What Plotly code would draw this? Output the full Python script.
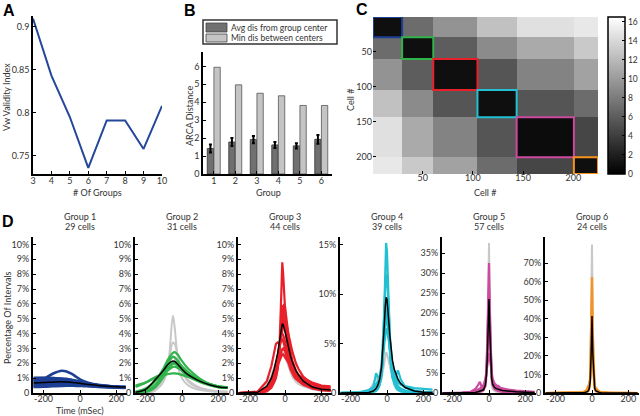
import numpy as np
import plotly.graph_objects as go

# ---------------- Panel A data ----------------
groups_k = [3, 4, 5, 6, 7, 8, 9, 10]
vw_index = [0.909, 0.843, 0.795, 0.736, 0.791, 0.791, 0.758, 0.808]

# ---------------- Panel B data ----------------
bar_groups = [1, 2, 3, 4, 5, 6]
avg_dis = [1.42, 1.78, 1.92, 1.62, 1.57, 1.93]
avg_dis_err = [0.22, 0.22, 0.20, 0.17, 0.15, 0.25]
min_dis = [5.95, 4.97, 4.50, 4.36, 3.82, 3.82]
legend_names = ["Avg dis from group center", "Min dis between centers"]
bar_colors = ["#707070", "#c4c4c4"]

# ---------------- Panel C data ----------------
group_sizes = [29, 31, 44, 39, 57, 24]
block_dist = [
    [1.0, 7.0, 9.5, 12.5, 14.5, 15.0],
    [7.0, 1.0, 6.0, 9.0, 11.0, 13.0],
    [9.5, 6.0, 1.0, 5.5, 8.5, 10.5],
    [12.5, 9.0, 5.5, 1.0, 5.5, 7.0],
    [14.5, 11.0, 8.5, 5.5, 0.8, 4.5],
    [15.0, 13.0, 10.5, 7.0, 4.5, 1.0],
]
cbar_ticks = [0, 2, 4, 6, 8, 10, 12, 14, 16]

group_colors = ["#1d3f94", "#2fb34a", "#e8202a", "#22c0d2", "#cc4a9e", "#f7921e"]
gray_col = "#c8c8c8"

# ---------------- Panel D data ----------------
group_titles = ["Group 1", "Group 2", "Group 3", "Group 4", "Group 5", "Group 6"]
group_counts = ["29 cells", "31 cells", "44 cells", "39 cells", "57 cells", "24 cells"]

t_wide = [-255, -200, -150, -100, -75, -50, -40, -25, 0, 25, 50, 100, 150, 200, 250]
t_narrow = [-255, -150, -100, -75, -60, -50, -40, -30, -20, -15, -10, -5, 0, 5, 10, 15,
            20, 30, 40, 50, 60, 75, 100, 150, 200, 250]

g1_mean = [0.68, 0.70, 0.73, 0.75, 0.74, 0.72, 0.71, 0.69, 0.65, 0.61, 0.57, 0.50, 0.45, 0.42, 0.40]
g1_cells = [
    [0.80, 0.95, 1.30, 1.50, 1.45, 1.32, 1.25, 1.12, 0.92, 0.78, 0.68, 0.55, 0.47, 0.42, 0.40],
    [1.00, 1.02, 1.00, 0.98, 0.95, 0.90, 0.88, 0.84, 0.76, 0.68, 0.62, 0.52, 0.46, 0.42, 0.40],
    [0.92, 0.94, 0.95, 0.94, 0.91, 0.87, 0.85, 0.81, 0.74, 0.67, 0.61, 0.52, 0.46, 0.42, 0.40],
    [0.85, 0.86, 0.88, 0.88, 0.86, 0.83, 0.81, 0.78, 0.72, 0.66, 0.60, 0.52, 0.46, 0.42, 0.40],
    [0.75, 0.77, 0.80, 0.81, 0.80, 0.78, 0.77, 0.74, 0.69, 0.64, 0.59, 0.51, 0.45, 0.41, 0.39],
    [0.60, 0.62, 0.66, 0.68, 0.68, 0.67, 0.66, 0.64, 0.60, 0.57, 0.54, 0.48, 0.43, 0.40, 0.38],
    [0.52, 0.55, 0.59, 0.62, 0.62, 0.62, 0.61, 0.60, 0.57, 0.54, 0.51, 0.46, 0.42, 0.39, 0.37],
    [0.45, 0.48, 0.52, 0.56, 0.57, 0.57, 0.56, 0.55, 0.53, 0.51, 0.49, 0.45, 0.41, 0.38, 0.36],
    [0.40, 0.42, 0.45, 0.48, 0.49, 0.49, 0.49, 0.48, 0.47, 0.46, 0.44, 0.41, 0.38, 0.35, 0.34],
]
g1_gray = [
    [1.10, 1.08, 1.04, 0.98, 0.95, 0.90, 0.87, 0.82, 0.74, 0.66, 0.60, 0.50, 0.44, 0.40, 0.38],
]

g2_mean = [0.05, 0.25, 0.85, 1.55, 1.95, 2.15, 2.12, 1.95, 1.60, 1.30, 1.10, 0.78, 0.55, 0.40, 0.35]
g2_cells = [
    [0.05, 0.20, 0.75, 1.70, 2.30, 2.70, 2.75, 2.60, 2.15, 1.75, 1.45, 0.95, 0.62, 0.45, 0.38],
    [0.02, 0.10, 0.50, 1.40, 2.05, 2.45, 2.40, 2.20, 1.75, 1.40, 1.15, 0.80, 0.55, 0.40, 0.35],
    [0.50, 0.70, 1.00, 1.20, 1.28, 1.32, 1.32, 1.30, 1.22, 1.12, 1.02, 0.80, 0.60, 0.45, 0.40],
    [0.40, 0.70, 1.05, 1.35, 1.55, 1.75, 1.78, 1.70, 1.50, 1.28, 1.10, 0.80, 0.58, 0.42, 0.36],
    [0.00, 0.05, 0.35, 1.10, 1.60, 1.95, 1.98, 1.85, 1.50, 1.20, 1.00, 0.72, 0.52, 0.38, 0.34],
    [0.10, 0.30, 0.80, 1.40, 1.75, 2.05, 2.10, 2.05, 1.80, 1.50, 1.25, 0.88, 0.60, 0.44, 0.38],
]
g2_gray = [
    [0.00, 0.02, 0.15, 0.80, 2.00, 5.20, 4.40, 2.60, 1.40, 0.90, 0.60, 0.30, 0.15, 0.10, 0.08],
    [0.00, 0.03, 0.25, 1.00, 2.00, 3.40, 3.30, 2.60, 1.50, 1.00, 0.70, 0.35, 0.20, 0.12, 0.10],
    [0.00, 0.05, 0.30, 1.20, 1.90, 2.40, 2.30, 1.80, 1.00, 0.60, 0.40, 0.20, 0.12, 0.08, 0.06],
]

g3_mean = [0, 0.05, 0.45, 1.0, 1.6, 2.1, 2.7, 3.5, 4.4, 4.65, 4.6, 4.4, 4.2, 3.9, 3.6, 3.3,
           3.0, 2.5, 2.1, 1.8, 1.5, 1.2, 0.8, 0.4, 0.25, 0.2]
g3_cells = [
    [0, 0.02, 0.2, 0.5, 0.8, 1.1, 1.8, 3.2, 6.8, 8.8, 8.0, 6.5, 5.5, 4.6, 4.0, 3.5, 3.0, 2.3, 1.9, 1.6, 1.3, 1.0, 0.65, 0.3, 0.2, 0.15],
    [0, 0.03, 0.3, 0.7, 1.1, 1.5, 2.1, 3.0, 4.3, 5.0, 5.6, 6.0, 5.8, 5.3, 4.7, 4.1, 3.6, 2.8, 2.2, 1.8, 1.5, 1.2, 0.85, 0.45, 0.28, 0.22],
    [0, 0.1, 0.8, 1.8, 2.7, 3.3, 3.4, 3.3, 3.5, 3.6, 3.5, 3.3, 3.1, 2.8, 2.5, 2.2, 2.0, 1.6, 1.3, 1.1, 0.95, 0.8, 0.6, 0.35, 0.22, 0.18],
    [0, 0.02, 0.3, 0.8, 1.3, 1.7, 2.3, 3.0, 3.9, 4.3, 4.6, 4.9, 5.0, 4.8, 4.5, 4.2, 3.9, 3.3, 2.8, 2.4, 2.0, 1.6, 1.1, 0.6, 0.4, 0.3],
    [0, 0.05, 0.4, 0.9, 1.3, 1.6, 1.9, 2.2, 2.5, 2.6, 2.6, 2.5, 2.4, 2.3, 2.2, 2.1, 2.0, 1.8, 1.6, 1.45, 1.3, 1.1, 0.9, 0.6, 0.45, 0.4],
    [0, 0.02, 0.25, 0.7, 1.2, 1.7, 2.4, 3.3, 4.0, 4.0, 3.9, 3.7, 3.5, 3.2, 2.9, 2.6, 2.4, 2.0, 1.7, 1.4, 1.2, 0.95, 0.7, 0.4, 0.25, 0.2],
    [0, 0.01, 0.1, 0.35, 0.7, 1.0, 1.6, 2.7, 4.8, 5.9, 5.6, 5.0, 4.5, 3.9, 3.4, 2.9, 2.5, 1.9, 1.5, 1.2, 1.0, 0.8, 0.55, 0.3, 0.18, 0.15],
    [0, 0.03, 0.3, 0.8, 1.2, 1.5, 1.9, 2.4, 2.8, 2.95, 3.0, 2.9, 2.8, 2.6, 2.4, 2.2, 2.1, 1.9, 1.7, 1.5, 1.35, 1.2, 1.0, 0.7, 0.5, 0.45],
]
g3_gray = [
    [0, 0.05, 0.6, 1.2, 1.7, 2.0, 2.2, 2.4, 2.6, 2.7, 2.7, 2.6, 2.5, 2.3, 2.1, 1.9, 1.7, 1.4, 1.1, 0.9, 0.75, 0.6, 0.45, 0.25, 0.15, 0.12],
]

g4_mean = [0, 0, 0.05, 0.2, 0.45, 0.8, 1.4, 2.6, 5.0, 6.8, 8.6, 9.7, 9.5, 8.6, 7.2, 5.9,
           4.8, 3.3, 2.4, 1.8, 1.4, 0.95, 0.55, 0.2, 0.08, 0.05]
g4_cells = [
    [0, 0, 0.02, 0.1, 0.2, 0.4, 0.8, 1.8, 5.0, 8.5, 12.5, 15.2, 14.3, 11.0, 7.5, 5.0, 3.3, 1.6, 0.9, 0.5, 0.3, 0.15, 0.08, 0.03, 0.01, 0],
    [0, 0, 0.03, 0.15, 0.35, 0.7, 1.3, 2.6, 5.8, 8.2, 10.5, 11.8, 12.0, 10.5, 8.2, 6.0, 4.4, 2.5, 1.5, 1.0, 0.7, 0.45, 0.25, 0.1, 0.05, 0.03],
    [0, 0, 0.1, 0.6, 2.0, 1.6, 1.3, 2.0, 4.0, 5.8, 7.6, 8.8, 8.5, 7.4, 5.8, 4.3, 3.1, 1.6, 1.3, 1.8, 2.3, 1.4, 0.6, 0.2, 0.08, 0.05],
    [0, 0, 0.1, 0.3, 0.6, 0.9, 1.5, 2.5, 4.2, 5.2, 6.0, 6.5, 6.4, 6.0, 5.3, 4.6, 3.9, 2.9, 2.2, 1.7, 1.3, 0.9, 0.55, 0.25, 0.12, 0.08],
    [0, 0, 0.05, 0.15, 0.3, 0.5, 0.9, 1.8, 4.0, 6.0, 8.2, 9.4, 9.6, 8.6, 6.8, 5.0, 3.6, 2.0, 1.2, 0.8, 0.55, 0.35, 0.2, 0.08, 0.03, 0.02],
    [0.05, 0.1, 0.3, 0.6, 0.9, 1.2, 1.7, 2.8, 4.6, 5.8, 7.0, 7.8, 7.6, 6.8, 5.6, 4.5, 3.6, 2.4, 1.7, 1.3, 1.05, 0.85, 0.7, 0.5, 0.4, 0.35],
]
g4_gray = [
    [0, 0.05, 0.3, 0.9, 1.6, 1.2, 1.0, 1.4, 2.5, 3.2, 3.8, 4.1, 4.0, 3.6, 3.1, 2.6, 2.2, 1.5, 1.0, 0.7, 0.5, 0.3, 0.15, 0.05, 0.02, 0],
]

g5_mean = [0, 0.02, 0.05, 0.15, 0.3, 0.45, 0.5, 0.8, 2.0, 4.0, 8.0, 16.0, 23.5, 15.0, 7.0, 3.5,
           2.2, 1.4, 1.1, 0.9, 0.8, 0.65, 0.5, 0.3, 0.2, 0.12]
g5_cells = [
    [0, 0, 0.02, 0.1, 0.2, 0.3, 0.4, 0.7, 1.8, 4.5, 10.0, 22.0, 32.5, 20.0, 8.0, 3.5, 2.0, 1.0, 0.7, 0.5, 0.4, 0.3, 0.2, 0.1, 0.05, 0.03],
    [0, 0.05, 0.3, 1.0, 2.0, 2.8, 1.5, 1.2, 2.5, 4.5, 8.5, 15.0, 20.0, 14.0, 7.5, 4.0, 2.6, 1.8, 1.5, 1.8, 1.4, 1.0, 0.7, 0.4, 0.25, 0.15],
    [0, 0.05, 0.3, 0.6, 0.9, 1.1, 1.4, 2.0, 3.5, 5.0, 7.0, 9.0, 10.0, 8.5, 6.5, 4.8, 3.6, 2.4, 1.8, 1.5, 1.3, 1.1, 0.9, 0.6, 0.4, 0.3],
    [0, 0, 0.05, 0.2, 0.4, 0.6, 0.8, 1.2, 2.5, 5.0, 11.0, 20.0, 26.0, 17.0, 8.5, 4.0, 2.4, 1.4, 1.3, 1.0, 0.8, 0.6, 0.4, 0.2, 0.1, 0.05],
]
g5_gray = [
    [0, 0, 0.02, 0.1, 0.3, 0.8, 2.0, 1.0, 1.5, 3.0, 8.0, 25.0, 37.5, 22.0, 6.0, 2.0, 1.0, 0.5, 0.3, 0.2, 0.1, 0.08, 0.05, 0.02, 0, 0],
]

g6_mean = [0, 0, 0.02, 0.05, 0.1, 0.15, 0.3, 0.5, 1.2, 2.5, 6.0, 20.0, 41.5, 20.0, 6.0, 2.5,
           1.3, 0.6, 0.3, 0.2, 0.12, 0.08, 0.05, 0.02, 0.01, 0]
g6_cells = [
    [0, 0, 0, 0.02, 0.05, 0.1, 0.2, 0.4, 1.0, 2.5, 8.0, 32.0, 62.5, 30.0, 7.5, 2.5, 1.2, 0.5, 0.25, 0.15, 0.1, 0.05, 0.03, 0.01, 0, 0],
    [0, 0, 0.05, 0.1, 0.2, 0.4, 0.8, 1.5, 4.0, 5.0, 8.0, 20.0, 40.0, 18.0, 6.0, 3.5, 3.0, 1.5, 0.8, 0.5, 0.3, 0.2, 0.1, 0.05, 0.02, 0],
    [0, 0.01, 0.05, 0.15, 0.3, 0.5, 0.8, 1.3, 2.5, 4.0, 7.0, 15.0, 25.0, 14.0, 6.5, 3.5, 2.2, 1.2, 0.7, 0.45, 0.3, 0.2, 0.1, 0.05, 0.02, 0.01],
]
g6_gray = [
    [0, 0, 0, 0.01, 0.02, 0.05, 0.1, 0.3, 0.8, 2.0, 6.0, 38.0, 80.0, 36.0, 5.0, 1.5, 0.6, 0.2, 0.1, 0.05, 0.02, 0.01, 0, 0, 0, 0],
]

d_time = [t_wide, t_wide, t_narrow, t_narrow, t_narrow, t_narrow]
d_means = [g1_mean, g2_mean, g3_mean, g4_mean, g5_mean, g6_mean]
d_cells = [g1_cells, g2_cells, g3_cells, g4_cells, g5_cells, g6_cells]
d_grays = [g1_gray, g2_gray, g3_gray, g4_gray, g5_gray, g6_gray]
d_ymax = [10.5, 10.5, 10.5, 15.8, 39, 84]
d_ytick_vals = [
    [0, 1, 2, 3, 4, 5, 6, 7, 8, 9, 10],
    [0, 1, 2, 3, 4, 5, 6, 7, 8, 9, 10],
    [0, 1, 2, 3, 4, 5, 6, 7, 8, 9, 10],
    [0, 5, 10, 15],
    [0, 5, 10, 15, 20, 25, 30, 35],
    [0, 10, 20, 30, 40, 50, 60, 70],
]
d_ytick_text = [
    ["0", "1%", "2%", "3%", "4%", "5%", "6%", "7%", "8%", "9%", "10%"],
    ["0", "1%", "2%", "3%", "4%", "5%", "6%", "7%", "8%", "9%", "10%"],
    ["0", "1%", "2%", "3%", "4%", "5%", "6%", "7%", "8%", "9%", "10%"],
    ["0", "5%", "10%", "15%"],
    ["0", "5%", "10%", "15%", "20%", "25%", "30%", "35%"],
    ["0", "10%", "20%", "30%", "40%", "50%", "60%", "70%"],
]
d_xticks = [-200, 0, 200]
d_xtick_text = ["-200", "0", "200"]

# ---------------- layout helpers (pixels -> paper) ----------------
W, H = 640, 416
FONT = "Lato"
TXT = "#333333"


def px_x(p):
    return p / W


def px_y(p):
    return 1 - p / H


axis_common = dict(showline=True, linecolor="black", linewidth=1.5, ticks="inside",
                   ticklen=3, tickcolor="black", tickwidth=1, showgrid=False,
                   zeroline=False, tickfont=dict(size=9, color=TXT, family=FONT))

fig = go.Figure()
layout = dict(width=W, height=H, margin=dict(l=0, r=0, t=0, b=0, autoexpand=False),
              plot_bgcolor="white", paper_bgcolor="white", showlegend=False,
              font=dict(family=FONT, size=9, color=TXT))

# ---- Panel A ----
fig.add_trace(go.Scatter(x=groups_k, y=vw_index, mode="lines",
                         line=dict(color="#24479a", width=2), showlegend=False,
                         xaxis="x", yaxis="y"))
layout["xaxis"] = dict(axis_common, domain=[px_x(33), px_x(162)], range=[3, 10],
                       tickvals=groups_k, anchor="y", ticklabelstandoff=-3)
layout["yaxis"] = dict(axis_common, domain=[px_y(174), px_y(16)], range=[0.729, 0.912],
                       tickvals=[0.75, 0.8, 0.85, 0.9], ticktext=["0.75", "0.8", "0.85", "0.9"],
                       anchor="x")

# ---- Panel B ----
fig.add_trace(go.Bar(x=bar_groups, y=avg_dis, name=legend_names[0],
                     marker=dict(color=bar_colors[0], line=dict(color="#333", width=0.8)),
                     error_y=dict(type="data", array=avg_dis_err, color="black",
                                  thickness=2, width=1.5),
                     xaxis="x2", yaxis="y2"))
fig.add_trace(go.Bar(x=bar_groups, y=min_dis, name=legend_names[1],
                     marker=dict(color=bar_colors[1], line=dict(color="#555", width=0.8)),
                     xaxis="x2", yaxis="y2"))
layout["xaxis2"] = dict(axis_common, domain=[px_x(203), px_x(332)], range=[0.5, 6.5],
                        tickvals=bar_groups, anchor="y2", ticklabelstandoff=-3)
layout["yaxis2"] = dict(axis_common, domain=[px_y(174), px_y(52)], range=[0, 6.8],
                        tickvals=[0, 1, 2, 3, 4, 5, 6], anchor="x2")
layout["barmode"] = "group"
layout["bargap"] = 0.38
layout["bargroupgap"] = 0.05

shapes = []
# legend box for panel B (drawn key)
shapes.append(dict(type="rect", xref="paper", yref="paper", x0=px_x(203), x1=px_x(337),
                   y0=px_y(44), y1=px_y(20), line=dict(color="#333", width=1.5),
                   fillcolor="white"))
for i, (ytop, ybot) in enumerate([(23, 32), (34, 42)]):
    shapes.append(dict(type="rect", xref="paper", yref="paper", x0=px_x(206), x1=px_x(227),
                       y0=px_y(ybot), y1=px_y(ytop), line=dict(color="#444", width=0.8),
                       fillcolor=bar_colors[i]))

# ---- Panel C ----
idx = np.repeat(np.arange(len(group_sizes)), group_sizes)
zmat = np.array(block_dist)[idx][:, idx]
n_cells = int(sum(group_sizes))
cells = np.arange(1, n_cells + 1)
fig.add_trace(go.Heatmap(z=zmat, x=cells, y=cells, zmin=0, zmax=16.5,
                         colorscale=[[0, "black"], [1, "white"]],
                         xaxis="x3", yaxis="y3",
                         colorbar=dict(x=px_x(608), xanchor="left", xpad=0,
                                       thickness=17, len=157 / H, lenmode="fraction",
                                       y=px_y(95.5), yanchor="middle", ypad=0,
                                       outlinecolor="black", outlinewidth=1.5,
                                       tickvals=cbar_ticks, ticks="inside", ticklen=3,
                                       tickcolor="black",
                                       tickfont=dict(size=8.5, color=TXT, family=FONT))))
layout["xaxis3"] = dict(axis_common, domain=[px_x(373), px_x(598)], range=[0.5, n_cells + 0.5],
                        tickvals=[50, 100, 150, 200], anchor="y3", showline=False,
                        ticklabelstandoff=-3)
layout["yaxis3"] = dict(axis_common, domain=[px_y(174), px_y(17)], range=[n_cells + 0.5, 0.5],
                        tickvals=[50, 100, 150, 200], anchor="x3", showline=False)

edges = np.concatenate([[0], np.cumsum(group_sizes)]) + 0.5
for g in range(len(group_sizes)):
    shapes.append(dict(type="rect", xref="x3", yref="y3", x0=edges[g], x1=edges[g + 1],
                       y0=edges[g], y1=edges[g + 1],
                       line=dict(color=group_colors[g], width=2)))

# ---- Panel D ----
d_center = [80, 182, 285, 387, 489, 592]
d_half = 47
for g in range(6):
    xa = "x%d" % (g + 4)
    ya = "y%d" % (g + 4)
    t = d_time[g]
    shape = "spline" if g < 2 else "linear"
    cw = 2.6 if g == 0 else 2.2
    for curve in d_grays[g]:
        fig.add_trace(go.Scatter(x=t, y=curve, mode="lines", showlegend=False,
                                 line=dict(color=gray_col, width=2, shape=shape),
                                 xaxis=xa, yaxis=ya, hoverinfo="skip"))
    for curve in d_cells[g]:
        fig.add_trace(go.Scatter(x=t, y=curve, mode="lines", showlegend=False,
                                 line=dict(color=group_colors[g], width=cw, shape=shape),
                                 xaxis=xa, yaxis=ya, hoverinfo="skip"))
    fig.add_trace(go.Scatter(x=t, y=d_means[g], mode="lines", showlegend=False,
                             line=dict(color="black", width=1.5, shape=shape),
                             xaxis=xa, yaxis=ya))
    layout["xaxis%d" % (g + 4)] = dict(
        axis_common,
        domain=[px_x(d_center[g] - d_half), px_x(min(d_center[g] + d_half, 639.5))],
        range=[-258, 258], tickvals=d_xticks, ticktext=d_xtick_text,
        anchor=ya, linewidth=2, ticklabelstandoff=-4)
    layout["yaxis%d" % (g + 4)] = dict(
        axis_common, domain=[px_y(393), px_y(237)], range=[0, d_ymax[g]],
        tickvals=d_ytick_vals[g], ticktext=d_ytick_text[g], anchor=xa, linewidth=2)

# ---------------- annotations ----------------
ann = []


def label(text, x, y, size=9, angle=0, bold=False, color=TXT, xanchor="center", yanchor="middle"):
    ann.append(dict(text=("<b>%s</b>" % text) if bold else text, x=px_x(x), y=px_y(y),
                    xref="paper", yref="paper", showarrow=False, textangle=angle,
                    font=dict(size=size, color=color,
                              family=FONT if not bold else "Liberation Sans"),
                    xanchor=xanchor, yanchor=yanchor))


label("A", 9, 10, size=16, bold=True, color="black")
label("B", 190, 10, size=16, bold=True, color="black")
label("C", 362, 9, size=16, bold=True, color="black")
label("D", 8, 221, size=16, bold=True, color="black")

label("Vw Validity Index", 7, 97, angle=-90)
label("# Of Groups", 97, 192)
label("ARCA Distance", 189, 116, angle=-90)
label("Group", 268, 192)
label("Cell #", 350, 100, angle=-90)
label("Cell #", 485, 192)
label("Time (mSec)", 80, 410)
label("Percentage Of Intervals", 7, 318, angle=-90)

label(legend_names[0], 229, 27.5, size=8.5, xanchor="left")
label(legend_names[1], 229, 38.5, size=8.5, xanchor="left")

for g in range(6):
    label(group_titles[g], d_center[g], 216)
    label(group_counts[g], d_center[g], 227)

layout["annotations"] = ann
layout["shapes"] = shapes
fig.update_layout(**layout)
# remove the default page margin so the figure sits at the window's top-left corner
fig.write_html("out.html", config={"displayModeBar": False},
               post_script="document.body.style.margin='0';")
